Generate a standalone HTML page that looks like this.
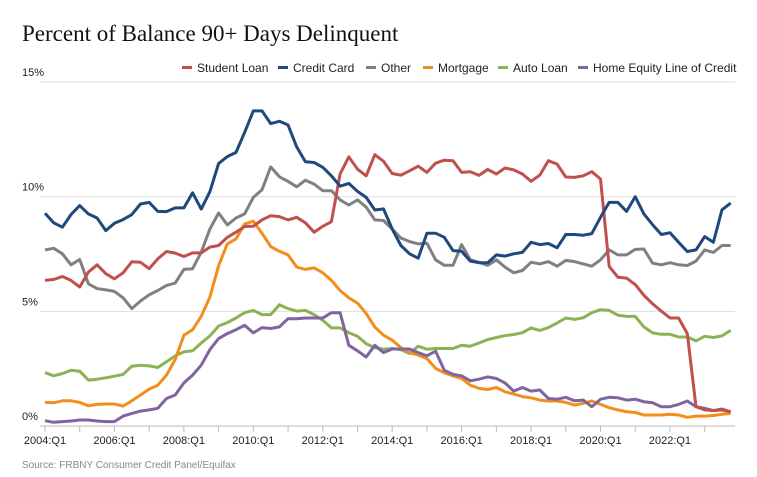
<!DOCTYPE html>
<html><head><meta charset="utf-8"><style>
body{margin:0;background:#fff;}
svg{display:block;}
</style></head><body>
<svg id="chart" width="757" height="477" viewBox="0 0 757 477" xmlns="http://www.w3.org/2000/svg">
<text x="22" y="41" font-family="Liberation Serif, serif" font-size="23" fill="#111">Percent of Balance 90+ Days Delinquent</text>
<g id="grid"></g>
<g id="yticks"></g>
<g id="xticks"></g>
<g id="series"></g>
<g id="legend"></g>
<text x="22" y="468" font-family="Liberation Sans, sans-serif" font-size="10" fill="#888">Source: FRBNY Consumer Credit Panel/Equifax</text>
</svg>
<script>
const yTicks=[0,5,10,15];
const yTickLabels=["0%","5%","10%","15%"];
const xTickLabels=["2004:Q1","2006:Q1","2008:Q1","2010:Q1","2012:Q1","2014:Q1","2016:Q1","2018:Q1","2020:Q1","2022:Q1"];
const seriesNames=["Student Loan","Credit Card","Other","Mortgage","Auto Loan","Home Equity Line of Credit"];
const seriesColors=["#c0504d","#1f497d","#808080","#f28e1c","#8db255","#8064a2"];
const studentLoan=[6.35,6.39,6.52,6.35,6.06,6.71,7.03,6.64,6.42,6.68,7.16,7.14,6.86,7.29,7.61,7.54,7.39,7.55,7.55,7.8,7.87,8.23,8.45,8.70,8.71,8.99,9.17,9.13,8.99,9.1,8.86,8.45,8.71,8.91,10.99,11.74,11.2,10.91,11.83,11.55,11.01,10.94,11.13,11.33,11.06,11.46,11.59,11.57,11.06,11.09,10.93,11.19,10.99,11.25,11.17,10.99,10.67,10.94,11.57,11.42,10.86,10.84,10.91,11.09,10.77,6.96,6.49,6.45,6.17,5.7,5.33,5.01,4.71,4.71,4.03,0.84,0.7,0.67,0.7,0.62];
const creditCard=[9.28,8.86,8.67,9.22,9.61,9.25,9.07,8.52,8.84,9.0,9.22,9.68,9.75,9.36,9.35,9.51,9.51,10.17,9.46,10.22,11.45,11.75,11.93,12.8,13.74,13.74,13.19,13.29,13.13,12.17,11.52,11.49,11.28,10.91,10.46,10.58,10.23,9.97,9.42,9.47,8.59,7.87,7.51,7.32,8.41,8.41,8.23,7.65,7.62,7.19,7.12,7.12,7.46,7.41,7.51,7.57,8.01,7.91,7.96,7.77,8.35,8.35,8.32,8.39,9.1,9.75,9.75,9.36,10.0,9.25,8.78,8.35,8.43,8.01,7.61,7.68,8.26,8.01,9.43,9.72];
const other=[7.68,7.75,7.51,7.03,7.26,6.2,5.99,5.94,5.87,5.59,5.12,5.45,5.72,5.91,6.13,6.23,6.83,6.86,7.58,8.59,9.29,8.77,9.07,9.25,9.97,10.3,11.3,10.87,10.67,10.43,10.72,10.55,10.26,10.26,9.86,9.64,9.86,9.54,8.99,8.96,8.59,8.2,8.04,7.94,7.97,7.25,7.01,7.01,7.91,7.25,7.14,7.01,7.25,6.93,6.68,6.78,7.14,7.07,7.17,6.97,7.22,7.17,7.07,6.97,7.25,7.68,7.46,7.46,7.7,7.72,7.1,7.03,7.12,7.03,7.0,7.19,7.68,7.57,7.87,7.87];
const mortgage=[1.03,1.01,1.1,1.1,1.03,0.88,0.94,0.96,0.96,0.87,1.1,1.35,1.61,1.78,2.22,2.9,3.96,4.2,4.78,5.62,6.99,7.94,8.16,8.81,8.93,8.41,7.83,7.62,7.46,6.93,6.83,6.9,6.68,6.35,5.91,5.59,5.36,4.9,4.32,3.96,3.74,3.42,3.2,3.09,2.94,2.51,2.32,2.19,2.07,1.78,1.64,1.59,1.68,1.49,1.39,1.28,1.23,1.13,1.09,1.09,1.03,0.91,0.99,1.09,0.94,0.8,0.7,0.62,0.59,0.48,0.48,0.48,0.51,0.48,0.38,0.43,0.43,0.46,0.51,0.55];
const autoLoan=[2.33,2.19,2.29,2.43,2.39,2.0,2.04,2.1,2.17,2.25,2.61,2.65,2.62,2.55,2.8,3.06,3.23,3.28,3.62,3.93,4.36,4.51,4.71,4.94,5.04,4.86,4.86,5.29,5.12,5.01,5.04,4.86,4.61,4.28,4.28,4.07,3.91,3.59,3.42,3.35,3.38,3.33,3.16,3.48,3.35,3.38,3.38,3.38,3.52,3.48,3.62,3.77,3.86,3.94,3.99,4.07,4.28,4.17,4.29,4.49,4.71,4.65,4.72,4.94,5.07,5.04,4.83,4.78,4.78,4.32,4.06,4.0,4.0,3.88,3.88,3.71,3.91,3.86,3.93,4.17];
const heloc=[0.23,0.16,0.19,0.22,0.26,0.26,0.22,0.19,0.19,0.43,0.55,0.65,0.7,0.77,1.2,1.35,1.88,2.22,2.65,3.33,3.81,4.03,4.2,4.39,4.06,4.29,4.25,4.32,4.68,4.68,4.71,4.71,4.71,4.94,4.94,3.52,3.28,3.01,3.52,3.2,3.36,3.36,3.36,3.2,3.06,3.26,2.43,2.25,2.19,1.97,2.04,2.14,2.07,1.88,1.52,1.68,1.52,1.57,1.2,1.17,1.25,1.1,1.13,0.84,1.17,1.25,1.23,1.13,1.17,1.06,1.01,0.84,0.84,0.94,1.09,0.84,0.77,0.67,0.74,0.62];

const NS="http://www.w3.org/2000/svg";
const svg=document.getElementById('chart');
const x0=45, dx=8.68, yZero=426, yPerPct=22.93, plotL=40, plotR=735;
function xs(i){return x0+i*dx;}
function ys(v){return yZero-v*yPerPct;}
function mk(tag,attrs,parent){const e=document.createElementNS(NS,tag);for(const k in attrs)e.setAttribute(k,attrs[k]);parent.appendChild(e);return e;}
const grid=document.getElementById('grid'), yt=document.getElementById('yticks'), xt=document.getElementById('xticks');
yTicks.forEach((v,k)=>{
  const l=mk('line',{x1:plotL,x2:plotR,y1:ys(v),y2:ys(v),stroke:v===0?'#bbb':'#ddd','stroke-width':1},grid);
  
  
  const t=mk('text',{x:22,y:ys(v)-6,'font-family':'Liberation Sans, sans-serif','font-size':11,fill:'#222'},yt);
  t.textContent=yTickLabels[k];
  
  
});
for(let q=0;q<80;q+=4){
  const tk=mk('line',{x1:xs(q),x2:xs(q),y1:yZero,y2:yZero+6,stroke:'#bbb','stroke-width':1},xt);
  
  
}
xTickLabels.forEach((s,k)=>{
  const t=mk('text',{x:xs(k*8),y:yZero+18,'text-anchor':'middle','font-family':'Liberation Sans, sans-serif','font-size':11,fill:'#222'},xt);
  t.textContent=s;
  
  
});
const allSeries=[studentLoan,creditCard,other,mortgage,autoLoan,heloc];
const sg=document.getElementById('series');
const order=[4,3,5,2,0,1];
order.forEach(s=>{
  const d=allSeries[s].map((v,i)=>(i?'L':'M')+xs(i).toFixed(1)+','+ys(v).toFixed(1)).join('');
  const p=mk('path',{d:d,fill:'none',stroke:seriesColors[s],'stroke-width':3,'stroke-linejoin':'round'},sg);
  
  
});
const lg=document.getElementById('legend');
const legX=[182,278,366,423,498,578];
seriesNames.forEach((n,k)=>{
  const g=mk('g',{},lg);
  
  
  mk('rect',{x:legX[k],y:66,width:10,height:3,fill:seriesColors[k]},g);
  const t=mk('text',{x:legX[k]+15,y:72,'font-family':'Liberation Sans, sans-serif','font-size':12,fill:'#222'},g);
  t.textContent=n;
});
</script>
</body></html>
